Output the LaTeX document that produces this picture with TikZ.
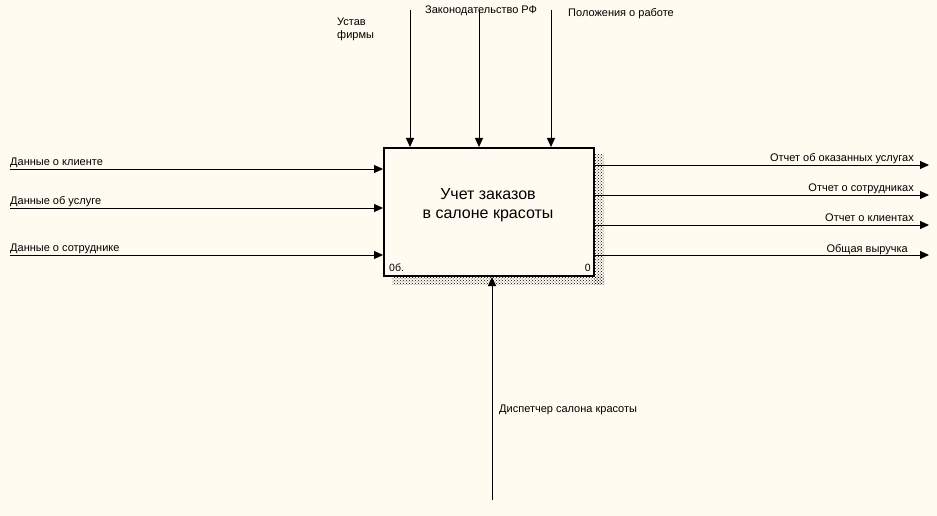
\documentclass[tikz,border=0pt]{standalone}
\usepackage{fontspec}
\setmainfont{Liberation Sans}
\usetikzlibrary{arrows.meta,patterns}
\definecolor{bgc}{RGB}{255,251,240}
\tikzset{
  arr/.style={draw=black, line width=0.9pt, -{Triangle[length=9pt,width=8pt]}},
  lbl/.style={inner sep=0pt, font=\fontsize{11}{13}\selectfont},
  boxstyle/.style={draw=black, line width=2pt, fill=bgc, minimum width=210pt, minimum height=128pt, inner sep=0pt, align=center, font=\fontsize{16}{19}\selectfont},
  shade/.style={pattern=crosshatch dots, pattern color=black, draw=none},
  small/.style={inner sep=0pt, font=\fontsize{10.5}{12}\selectfont}
}
\begin{document}
\begin{tikzpicture}[x=1pt,y=-1pt]
\useasboundingbox (0,0) rectangle (937,516);
\fill[bgc] (0,0) rectangle (937,516);
% shadow
\path[shade] (594,155) rectangle (604,284);
\path[shade] (392,276) rectangle (604,284);
% box
\node[boxstyle] (box) at (489,212) {};
\node[inner sep=0pt, align=center, font=\fontsize{16}{19}\selectfont] (title) at (488,205) {Учет заказов\\в салоне красоты};
\node[small, anchor=base west] (num) at (389,271) {0б.};
\node[small, anchor=base east] (num2) at (591,271) {0};
% inputs
\coordinate (i1) at (10,169);
\coordinate (i2) at (10,208);
\coordinate (i3) at (10,255);
\draw[arr] (i1) -- (i1 -| box.west);
\draw[arr] (i2) -- (i2 -| box.west);
\draw[arr] (i3) -- (i3 -| box.west);
\node[lbl, anchor=base west] (li1) at (10,165) {Данные о клиенте};
\node[lbl, anchor=base west] (li2) at (10,204) {Данные об услуге};
\node[lbl, anchor=base west] (li3) at (10,251) {Данные о сотруднике};
% outputs
\coordinate (o1) at (929,165);
\coordinate (o2) at (929,195);
\coordinate (o3) at (929,225);
\coordinate (o4) at (929,255);
\draw[arr] (o1 -| box.east) -- (o1);
\draw[arr] (o2 -| box.east) -- (o2);
\draw[arr] (o3 -| box.east) -- (o3);
\draw[arr] (o4 -| box.east) -- (o4);
\node[lbl, anchor=base east] (lo1) at (914,161) {Отчет об оказанных услугах};
\node[lbl, anchor=base east] (lo2) at (914,191) {Отчет о сотрудниках};
\node[lbl, anchor=base east] (lo3) at (914,221) {Отчет о клиентах};
\node[lbl, anchor=base east] (lo4) at (908,252) {Общая выручка};
% controls
\coordinate (c1) at (410,10);
\coordinate (c2) at (479,10);
\coordinate (c3) at (551,10);
\draw[arr] (c1) -- (c1 |- box.north);
\draw[arr] (c2) -- (c2 |- box.north);
\draw[arr] (c3) -- (c3 |- box.north);
\node[lbl, anchor=north west, align=left] (lc1) at (337,18) {Устав\\фирмы};
\node[lbl, anchor=base west] (lc2) at (425,14) {Законодательство РФ};
\node[lbl, anchor=base west] (lc3) at (568,17) {Положения о работе};
% mechanism
\coordinate (m1) at (492,500);
\draw[arr] (m1) -- (m1 |- box.south);
\node[lbl, anchor=base west] (lm1) at (499,412) {Диспетчер салона красоты};
\end{tikzpicture}
\end{document}
